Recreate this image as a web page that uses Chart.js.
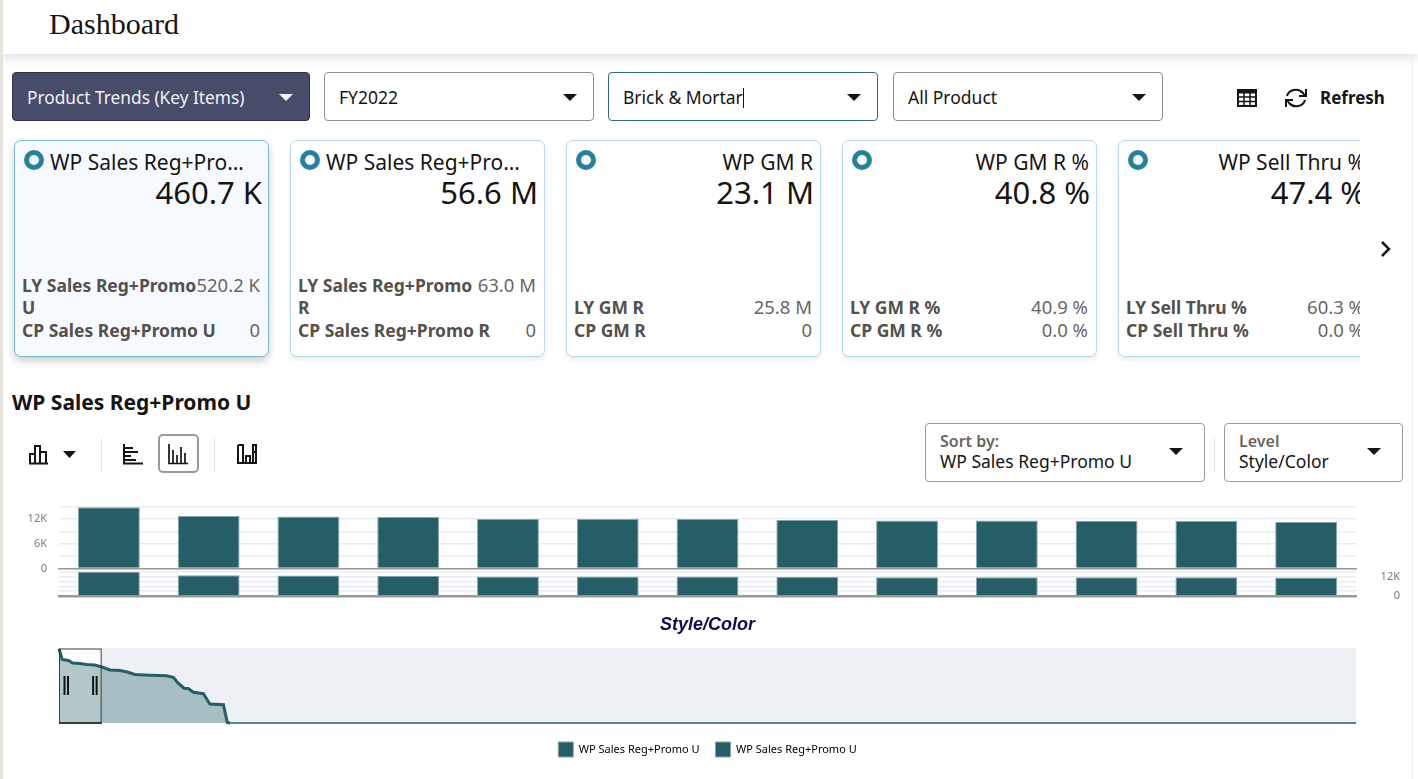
<!DOCTYPE html>
<html>
<head>
<meta charset="utf-8">
<title>Dashboard</title>
<script src="https://cdn.jsdelivr.net/npm/chart.js@4/dist/chart.umd.js"></script>
<style>
  html, body { margin: 0; padding: 0; background: #fff; overflow: hidden; }
  body { width: 1418px; height: 779px; position: relative; font-family: "Noto Sans", sans-serif; color: #161513; }
  #strip { position: absolute; left: 0; top: 0; width: 3px; height: 779px; background: #e5e3dc; z-index: 5; }
  #rstrip { position: absolute; left: 1412px; top: 54px; width: 1px; height: 725px; background: #efefef; }
  #header { position: absolute; left: 0; top: 0; width: 1418px; height: 54px; background: #fff; box-shadow: 0 2px 12px rgba(0,0,0,.16); }
  #header span { position: absolute; left: 49px; top: 7px; font: 30px/34px "Liberation Serif", serif; }
  .drop { position: absolute; top: 72px; height: 47px; width: 268px; border: 1px solid #8f8f8f; border-radius: 4px; background: #fff; font-size: 17.5px; line-height: 49px; text-indent: 14px; }
  .drop.dark { left: 12px; width: 296px; background: #474c6a; border-color: #30344a; color: #f2f2f2; font-size: 17.3px; }
  .drop.focus { border-color: #2e6e7e; }
  .drop i, .pick i { position: absolute; width: 0; height: 0; border-left: 7.5px solid transparent; border-right: 7.5px solid transparent; border-top: 7.5px solid #161513; }
  .drop i { right: 16px; top: 21px; }
  .drop.dark i { border-top-color: #f2f2f2; }
  .caret { display: inline-block; width: 1px; height: 20px; background: #161513; vertical-align: -4px; text-indent: 0; }
  #refresh { position: absolute; left: 1320px; top: 86px; font-size: 17px; font-weight: 700; line-height: 24px; }
  svg { position: absolute; overflow: visible; }
  #cards { position: absolute; left: 0; top: 130px; width: 1360px; height: 240px; overflow: hidden; }
  .card { position: absolute; top: 10px; width: 253px; height: 215px; border: 1px solid #b5dbe6; border-radius: 7px; background: #fff; box-shadow: 0 3px 5px rgba(0,0,0,.08); }
  .card.on { background: #f6fafe; border-color: #7ab8cf; box-shadow: 0 4px 8px rgba(0,0,0,.2); }
  .ring { position: absolute; left: 9px; top: 9px; width: 10px; height: 10px; border: 5px solid #23809f; border-radius: 50%; }
  .name { position: absolute; left: 35px; right: 7px; top: 6px; font-size: 21px; line-height: 30px; text-align: right; white-space: nowrap; overflow: hidden; text-overflow: ellipsis; }
  .name.long { text-align: left; right: 24px; }
  .big { position: absolute; right: 6px; top: 29px; font-size: 31px; line-height: 44px; white-space: nowrap; }
  .rows { position: absolute; left: 7px; right: 8px; bottom: 15px; color: #55504c; font-size: 17.5px; line-height: 22.5px; }
  .row { display: flex; justify-content: space-between; }
  .row b { font-weight: 700; }
  .row span { white-space: nowrap; font-size: 18.5px; color: #6a6560; }
  #chev { position: absolute; left: 1378px; top: 240px; }
  #heading { position: absolute; left: 12px; top: 387px; font-size: 21px; font-weight: 700; line-height: 30px; }
  .btn { position: absolute; left: 158px; top: 434px; width: 37px; height: 35px; border: 2px solid #9a9a9a; border-radius: 5px; }
  .sep { position: absolute; width: 1px; background: #e6e6e6; }
  .pick { position: absolute; top: 423px; height: 57px; border: 1px solid #9a9a9a; border-radius: 4px; }
  .pick em { position: absolute; left: 14px; top: 7px; font-style: normal; font-size: 16px; font-weight: 600; color: #6a6560; line-height: 20px; }
  .pick span { position: absolute; left: 14px; top: 25px; font-size: 17.5px; line-height: 24px; white-space: nowrap; }
  .pick i { right: 21px; top: 24px; }
  canvas { position: absolute; }
  #upper { left: 12px; top: 488px; }
  #lower { left: 50px; top: 554px; }
  #overview { left: 15px; top: 640px; }
</style>
</head>
<body>
<div id="header"><span>Dashboard</span></div>
<div id="strip"></div>
<div id="rstrip"></div>

<div class="drop dark">Product Trends (Key Items)<i></i></div>
<div class="drop" style="left:324px">FY2022<i></i></div>
<div class="drop focus" style="left:608px">Brick &amp; Mortar<span class="caret"></span><i></i></div>
<div class="drop" style="left:893px">All Product<i></i></div>

<svg style="left:1237px;top:89px" width="20" height="18" fill="none" stroke="#161513">
  <rect x="1" y="1" width="18" height="16" stroke-width="2"/>
  <path d="M1 3h18" stroke-width="3"/>
  <path d="M1 8h18M1 12.500h18M7 4v13M13 4v13" stroke-width="1.500"/>
</svg>
<svg style="left:1285px;top:86px" width="22" height="24" fill="none" stroke="#161513" stroke-width="2">
  <path d="M2 10a9 8 0 0 1 16-3l2 3M20 14a9 8 0 0 1-16 3l-2-3"/>
  <path d="M21 3v7h-7M1 21v-7h7"/>
</svg>
<div id="refresh">Refresh</div>

<div id="cards"></div>
<svg id="chev" width="16" height="18" fill="none" stroke="#161513" stroke-width="2.500"><path d="M4 2l7 7-7 7"/></svg>

<div id="heading">WP Sales Reg+Promo U</div>

<svg style="left:29px;top:444px" width="20" height="20" fill="none" stroke="#161513" stroke-width="2">
  <path d="M1 19V10h5v9M6 19V2h5v17M11 19V8h6v11M0 19.500h19"/>
</svg>
<svg style="left:63px;top:451px" width="13" height="8"><path d="M0 0h13l-6.500 7z" fill="#161513"/></svg>
<div class="sep" style="left:101px;top:438px;height:33px"></div>
<svg style="left:123px;top:444px" width="20" height="20" fill="none" stroke="#161513" stroke-width="2">
  <path d="M1 0v19.500h19M1 4h9M1 8h14M1 12h7M1 16h12"/>
</svg>
<div class="btn"></div>
<svg style="left:168px;top:444px" width="20" height="20" fill="none" stroke="#161513" stroke-width="1.700">
  <path d="M1 0v19.500h19M5 19V6M9 19V11M13 19V3M17 19V9"/>
</svg>
<div class="sep" style="left:214px;top:438px;height:33px"></div>
<svg style="left:237px;top:444px" width="20" height="20" fill="none" stroke="#161513" stroke-width="2">
  <path d="M1 1v18h18M1 1h5v18M9 19v-7h4v7M16 1h3v18h-3zM16 8h3"/>
</svg>

<div class="pick" style="left:925px;width:278px"><em>Sort by:</em><span>WP Sales Reg+Promo U</span><i></i></div>
<div class="sep" style="left:1214px;top:438px;height:33px"></div>
<div class="pick" style="left:1224px;width:177px"><em>Level</em><span>Style/Color</span><i></i></div>

<canvas id="upper" width="1350" height="99"></canvas>
<canvas id="lower" width="1350" height="84"></canvas>
<canvas id="overview" width="1385" height="127"></canvas>

<script>
// card strip
const cardNames = ["WP Sales Reg+Promo U", "WP Sales Reg+Promo R", "WP GM R", "WP GM R %", "WP Sell Thru %"];
const cardValues = ["460.7 K", "56.6 M", "23.1 M", "40.8 %", "47.4 %"];
const cardLyLabels = ["LY Sales Reg+Promo U", "LY Sales Reg+Promo R", "LY GM R", "LY GM R %", "LY Sell Thru %"];
const cardLyValues = ["520.2 K", "63.0 M", "25.8 M", "40.9 %", "60.3 %"];
const cardCpLabels = ["CP Sales Reg+Promo U", "CP Sales Reg+Promo R", "CP GM R", "CP GM R %", "CP Sell Thru %"];
const cardCpValues = ["0", "0", "0", "0.0 %", "0.0 %"];

// bars, one per style/color in the selected window
const styleColors = ["Item 1", "Item 2", "Item 3", "Item 4", "Item 5", "Item 6", "Item 7", "Item 8", "Item 9", "Item 10", "Item 11", "Item 12", "Item 13"];
const salesUnits = [14840, 12700, 12570, 12500, 12000, 12000, 11980, 11750, 11600, 11600, 11580, 11500, 11350];
const upperTickLabels = { 0: "0", 6000: "6K", 12000: "12K" };
const lowerTickLabels = { 0: "0", 12000: "12K" };

// overview strip: item rank vs units
const overviewRanks = [0, 1, 2.9, 4.2, 6.5, 8.6, 11.1, 13.2, 15.8, 18.9, 21.1, 23.5, 28.2, 33.3, 35.4, 36.9, 38.7, 40, 41.6, 44.7, 46.7, 50.9, 52.1, 53, 401.5];
const overviewUnits = [14840, 12700, 12500, 12000, 11900, 11700, 11600, 11200, 10600, 10500, 10200, 9700, 9550, 9450, 9150, 7950, 6950, 6900, 6150, 5850, 3800, 3650, 100, 0, 0];
const brushRange = [0, 13.2];
const legendNames = ["WP Sales Reg+Promo U", "WP Sales Reg+Promo U"];

const TEAL = "#255e66";
const TEAL_EDGE = "#86a5aa";
const GRID = "#e8ebef";
const AXIS = "#999999";
const TICK = "#7a7a7a";

const cardsEl = document.getElementById("cards");
cardNames.forEach((name, i) => {
  const long = name.length > 15;
  const row = (label, value) => `<div class="row"><b>${label}</b><span>${value}</span></div>`;
  const el = document.createElement("div");
  el.className = "card" + (i === 0 ? " on" : "");
  el.style.left = (14 + i * 276) + "px";
  el.innerHTML = `<div class="ring"></div>
    <div class="name${long ? " long" : ""}">${name}</div>
    <div class="big">${cardValues[i]}</div>
    <div class="rows">${row(cardLyLabels[i], cardLyValues[i])}${row(cardCpLabels[i], cardCpValues[i])}</div>`;
  cardsEl.appendChild(el);
});

Chart.defaults.font.family = '"Noto Sans", sans-serif';
Chart.defaults.animation = false;
Chart.defaults.responsive = false;

function barDataset() {
  return {
    label: "WP Sales Reg+Promo U",
    data: salesUnits,
    backgroundColor: TEAL,
    borderColor: TEAL_EDGE,
    borderWidth: 1,
    barPercentage: 0.62,
    categoryPercentage: 1
  };
}

function valueAxis(position, labels, padding) {
  return {
    position,
    min: 0,
    max: 15000,
    afterFit: s => { s.width = position === "left" ? 47 : 44; },
    border: { display: false },
    grid: { color: GRID, lineWidth: 1.5, drawTicks: false },
    ticks: {
      stepSize: 3000,
      padding,
      autoSkip: false,
      color: TICK,
      crossAlign: position === "left" ? "near" : "far",
      font: { size: 11 },
      callback: v => labels[v] || ""
    }
  };
}

new Chart(document.getElementById("upper"), {
  type: "bar",
  data: { labels: styleColors, datasets: [barDataset()] },
  options: {
    maintainAspectRatio: false,
    layout: { autoPadding: false, padding: { top: 10, right: 6, bottom: 3.700 } },
    plugins: { legend: { display: false }, tooltip: { enabled: false } },
    scales: {
      x: {
        grid: { display: false },
        ticks: { display: false },
        border: { color: AXIS, width: 1.5 },
        afterFit: s => { s.height = 0; }
      },
      y: valueAxis("left", upperTickLabels, 12)
    }
  }
});

new Chart(document.getElementById("lower"), {
  type: "bar",
  data: { labels: styleColors, datasets: [barDataset()] },
  options: {
    maintainAspectRatio: false,
    layout: { autoPadding: false, padding: { top: 10.400, left: 9 } },
    plugins: { legend: { display: false }, tooltip: { enabled: false } },
    scales: {
      x: {
        grid: { display: false },
        ticks: { display: false },
        border: { color: AXIS, width: 2.500 },
        title: {
          display: true,
          text: "Style/Color",
          color: "#0c0c4f",
          font: { family: '"Liberation Sans", sans-serif', size: 18, style: "italic", weight: "bold" },
          padding: { top: 10.100, bottom: 2.200 }
        }
      },
      y: valueAxis("right", lowerTickLabels, 11)
    }
  }
});

// plot background and the brush window, placed through the chart's own scales
const brushPlugin = {
  id: "brush",
  beforeDatasetsDraw(chart) {
    const { ctx, chartArea: a, scales: { x } } = chart;
    const left = x.getPixelForValue(brushRange[0]);
    const right = x.getPixelForValue(brushRange[1]);
    ctx.save();
    ctx.fillStyle = "#edf1f6";
    ctx.fillRect(a.left, a.top, a.width, a.height);
    ctx.fillStyle = "#ffffff";
    ctx.fillRect(left, a.top, right - left, a.height);
    ctx.restore();
  },
  afterDatasetsDraw(chart) {
    const { ctx, chartArea: a, scales: { x } } = chart;
    const left = x.getPixelForValue(brushRange[0]);
    const right = x.getPixelForValue(brushRange[1]);
    ctx.save();
    ctx.strokeStyle = "#3a3a3a";
    ctx.lineWidth = 1;
    ctx.strokeRect(left + 0.5, a.top + 1, right - left - 1, a.height - 1);
    ctx.fillStyle = "#3a3a3a";
    ctx.fillRect(left, a.bottom - 1, right - left, 2);
    ctx.fillStyle = "#111111";
    [left + 4.500, left + 8, right - 9.500, right - 6].forEach(hx => {
      ctx.fillRect(hx, a.top + 28, 2, 19);
    });
    ctx.restore();
  }
};

new Chart(document.getElementById("overview"), {
  type: "line",
  data: {
    datasets: [{
      label: "WP Sales Reg+Promo U",
      data: overviewRanks.map((r, i) => ({ x: r, y: overviewUnits[i] })),
      borderColor: TEAL,
      borderWidth: 3,
      backgroundColor: "rgba(37, 94, 102, 0.35)",
      fill: "origin",
      pointRadius: 0,
      tension: 0,
      clip: false,
      segment: {
        borderWidth: c => (c.p0.parsed.y === 0 && c.p1.parsed.y === 0 ? 1.500 : 3)
      }
    }]
  },
  plugins: [brushPlugin],
  options: {
    maintainAspectRatio: false,
    layout: { autoPadding: false, padding: { top: 8, left: 44, right: 44, bottom: 0 } },
    plugins: {
      tooltip: { enabled: false },
      legend: {
        position: "bottom",
        labels: {
          boxWidth: 15,
          boxHeight: 15,
          padding: 16,
          color: "#3c3c3c",
          font: { size: 11 },
          generateLabels: () => legendNames.map(text => ({
            text,
            fillStyle: TEAL,
            strokeStyle: TEAL_EDGE,
            lineWidth: 1
          }))
        }
      }
    },
    scales: {
      x: {
        type: "linear",
        min: 0,
        max: 401.5,
        grid: { display: false },
        border: { display: false },
        ticks: { display: false },
        afterFit: s => { s.height = 3; }
      },
      y: { display: false, min: 0, max: 15000 }
    }
  }
});
</script>
</body>
</html>
